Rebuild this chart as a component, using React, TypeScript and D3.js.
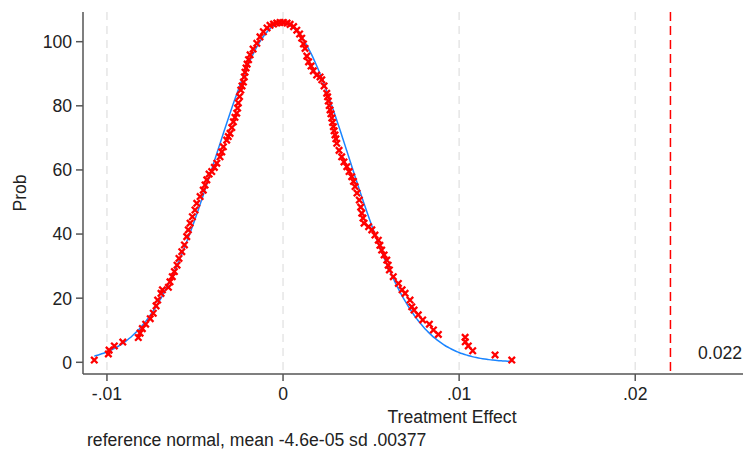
import * as d3 from "d3";

const width = 743;
const height = 453;

// kernel density of the treatment effect
const effect = [
  -0.01072, -0.00992, -0.00988, -0.00958, -0.0091, -0.00822, -0.00812, -0.00799, -0.0078, -0.00754,
  -0.00737, -0.00721, -0.00712, -0.00693, -0.00685, -0.00651, -0.00642, -0.00629, -0.00617, -0.00602,
  -0.00591, -0.00575, -0.0056, -0.00547, -0.00538, -0.00528, -0.00515, -0.005, -0.0049, -0.00471,
  -0.00453, -0.00443, -0.00433, -0.0042, -0.00405, -0.0039, -0.00376, -0.00358, -0.00348, -0.00339,
  -0.0032, -0.00311, -0.00301, -0.00291, -0.00282, -0.00273, -0.00263, -0.00258, -0.00254, -0.00247,
  -0.0024, -0.00233, -0.00225, -0.0022, -0.00216, -0.0021, -0.00204, -0.00196, -0.00187, -0.0017,
  -0.00149, -0.00131, -0.00112, -0.00091, -0.00074, -0.00054, -0.00036, -0.00017, 0.00002, 0.00023,
  0.0004, 0.0006, 0.00078, 0.00094, 0.00106, 0.00116, 0.00125, 0.00135, 0.00145, 0.00159,
  0.00172, 0.00191, 0.0021, 0.0022, 0.00233, 0.00248, 0.00253, 0.00257, 0.00262, 0.00267,
  0.00272, 0.00277, 0.00281, 0.00286, 0.0029, 0.00295, 0.003, 0.00305, 0.00318, 0.00333,
  0.00346, 0.00362, 0.00375, 0.0039, 0.004, 0.00409, 0.0042, 0.00433, 0.00441, 0.00447,
  0.00454, 0.0046, 0.00486, 0.00504, 0.00522, 0.00541, 0.0055, 0.0056, 0.00574, 0.00589,
  0.00597, 0.00604, 0.00626, 0.00655, 0.00676, 0.00693, 0.00721, 0.00731, 0.00744, 0.00768,
  0.00793, 0.00831, 0.00854, 0.00882, 0.01034, 0.01035, 0.01052, 0.01077, 0.01204, 0.01299,
];
const prob = [
  0.7, 2.6, 3.8, 5.1, 6.3, 7.7, 9.1, 10.5, 11.9, 13.6,
  15.3, 17.6, 19.4, 21.5, 22.6, 23.4, 25.1, 26.7, 28.3, 30.3,
  32.4, 34.5, 36.6, 39.2, 41.3, 43.4, 45.4, 47.5, 49.6, 51.7,
  53.7, 55.3, 56.9, 58.7, 59.5, 60.8, 62.1, 64.1, 65.6, 67.2,
  69.3, 70.4, 71.4, 73.2, 75.0, 76.4, 77.7, 79.3, 80.9, 82.9,
  84.9, 86.2, 87.4, 89.0, 90.5, 91.8, 93.0, 94.4, 95.9, 97.7,
  99.5, 101.5, 103.1, 104.3, 105.1, 105.5, 105.8, 106.0, 106.0, 105.8,
  105.4, 104.7, 103.6, 102.4, 101.1, 99.3, 97.9, 95.5, 93.7, 92.4,
  90.9, 89.6, 89.0, 88.1, 86.2, 83.9, 82.8, 81.5, 80.1, 78.7,
  77.5, 76.2, 74.8, 73.5, 72.2, 70.9, 69.7, 68.3, 66.1, 64.1,
  62.5, 61.0, 59.5, 57.9, 56.4, 54.8, 52.8, 50.6, 48.4, 46.5,
  45.0, 43.4, 42.3, 41.3, 39.7, 38.1, 36.5, 35.0, 33.5, 31.9,
  30.3, 28.8, 26.7, 24.6, 22.6, 21.5, 19.4, 17.3, 16.3, 14.8,
  13.2, 11.9, 10.1, 8.7, 7.8, 6.4, 5.1, 3.6, 2.3, 0.7,
];

const xTicks = [-0.01, 0, 0.01, 0.02];
const xTickLabels = ["-.01", "0", ".01", ".02"];
const yTicks = [0, 20, 40, 60, 80, 100];

// reference normal (from the note under the chart)
const normalMean = -4.6e-5;
const normalSd = 0.00377;
const observed = 0.022;

const FONT = "'Liberation Sans', Arial, sans-serif";
const FS = 17.6;
const AXIS = "#555";
const TEXT = "#222";

export default function App() {
  const x = d3.scaleLinear().domain([-0.01136, 0.02612]).range([83, 743]);
  const y = d3.scaleLinear().domain([-3.65, 109.26]).range([374, 12]);

  const points = effect.map((e, i) => ({ e, p: prob[i] }));

  const [lo, hi] = d3.extent(effect) as [number, number];
  const normalPts = d3.range(0, 201).map((i) => {
    const v = lo + ((hi - lo) * i) / 200;
    const z = (v - normalMean) / normalSd;
    return [v, Math.exp(-0.5 * z * z) / (normalSd * Math.sqrt(2 * Math.PI))] as [number, number];
  });
  const normalLine = d3
    .line<[number, number]>()
    .x((d) => x(d[0]))
    .y((d) => y(d[1]))
    .curve(d3.curveMonotoneX)(normalPts);

  const top = y.range()[1];
  const bottom = y.range()[0];

  return (
    <svg width={width} height={height} style={{ position: "absolute", left: 0, top: 0, background: "#fff" }} fontFamily={FONT}>
      {/* vertical grid */}
      {xTicks.map((t) => (
        <line key={t} x1={x(t)} x2={x(t)} y1={top} y2={bottom} stroke="#e6e6e6" strokeWidth={1.5} strokeDasharray="8,6" />
      ))}

      {/* reference normal */}
      <path d={normalLine ?? ""} fill="none" stroke="#1a85ff" strokeWidth={1.5} />

      {/* density markers */}
      {points.map((d, i) => (
        <path
          key={i}
          transform={`translate(${x(d.e)},${y(d.p)})`}
          d="M-3.2,-3.2L3.2,3.2M-3.2,3.2L3.2,-3.2"
          stroke="#ff0000"
          strokeWidth={2.3}
          fill="none"
        />
      ))}

      {/* observed effect */}
      <line x1={x(observed)} x2={x(observed)} y1={top} y2={bottom} stroke="#ff0000" strokeWidth={1.5} strokeDasharray="9,5" />
      <text x={width - 1} y={359} textAnchor="end" fontSize={FS} fill={TEXT}>
        {observed.toFixed(3)}
      </text>

      {/* y axis */}
      <line x1={83} x2={83} y1={top} y2={bottom} stroke={AXIS} strokeWidth={1.5} />
      {yTicks.map((t) => (
        <g key={t}>
          <line x1={76} x2={83} y1={y(t)} y2={y(t)} stroke={AXIS} strokeWidth={1.5} />
          <text x={72} y={y(t)} dy="0.36em" textAnchor="end" fontSize={FS} fill={TEXT}>
            {t}
          </text>
        </g>
      ))}
      <text transform="translate(26,193) rotate(-90)" textAnchor="middle" fontSize={FS} fill={TEXT}>
        Prob
      </text>

      {/* x axis */}
      <line x1={83} x2={743} y1={bottom} y2={bottom} stroke={AXIS} strokeWidth={1.5} />
      {xTicks.map((t, i) => (
        <g key={t}>
          <line x1={x(t)} x2={x(t)} y1={bottom} y2={bottom + 7} stroke={AXIS} strokeWidth={1.5} />
          <text x={x(t)} y={400} textAnchor="middle" fontSize={FS} fill={TEXT}>
            {xTickLabels[i]}
          </text>
        </g>
      ))}
      <text x={452} y={423} textAnchor="middle" fontSize={FS} fill={TEXT}>
        Treatment Effect
      </text>
      <text x={87} y={446} fontSize={FS} fill={TEXT}>
        reference normal, mean -4.6e-05 sd .00377
      </text>
    </svg>
  );
}
